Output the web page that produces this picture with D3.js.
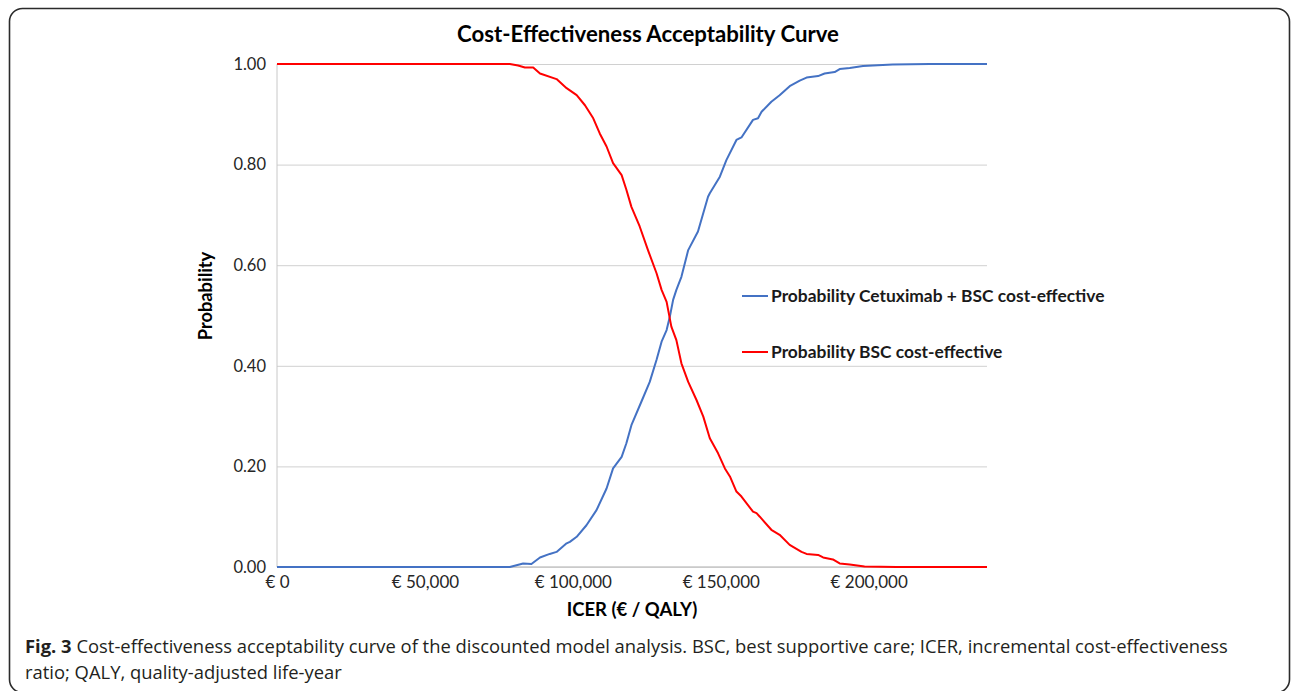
<!DOCTYPE html>
<html>
<head>
<meta charset="utf-8">
<script src="https://cdn.jsdelivr.net/npm/d3@7"></script>
<style>
  html, body { margin: 0; padding: 0; background: #fff; }
  svg { display: block; }
  .chart-font { font-family: Lato, "Noto Sans", sans-serif; }
  .cap-font { font-family: "Open Sans", "Noto Sans", sans-serif; }
</style>
</head>
<body>
<svg id="chart" width="1292" height="691"></svg>
<script>
// Willingness-to-pay thresholds (€ per QALY) and probability of being cost-effective
const cetuximabWtp = [0, 70000, 78700, 83200, 86000, 88900, 92200, 94500, 97900, 99000, 101300, 104600, 108000, 111400, 113600, 116500, 118100, 119800, 123200, 126000, 128300, 130000, 131700, 132800, 133900, 135000, 136700, 139000, 142300, 145700, 146300, 149700, 151900, 155300, 157000, 160900, 162600, 163800, 167100, 169900, 173300, 176700, 179000, 182900, 185100, 188500, 190200, 193600, 198100, 208100, 220600, 240000];
const cetuximabProb = [0, 0, 0, 0.007, 0.006, 0.019, 0.026, 0.030, 0.047, 0.050, 0.060, 0.083, 0.113, 0.156, 0.196, 0.219, 0.246, 0.282, 0.329, 0.368, 0.412, 0.448, 0.471, 0.498, 0.531, 0.551, 0.577, 0.630, 0.667, 0.736, 0.743, 0.776, 0.809, 0.849, 0.854, 0.889, 0.892, 0.905, 0.925, 0.938, 0.956, 0.967, 0.973, 0.976, 0.981, 0.984, 0.990, 0.992, 0.996, 0.999, 1, 1];

const bscWtp = [0, 72000, 78700, 81500, 83800, 86600, 88900, 94500, 97900, 101300, 104100, 106900, 109100, 111400, 113600, 116500, 118100, 119800, 122600, 125400, 128300, 130000, 131700, 133300, 135000, 136700, 139000, 141800, 144100, 146300, 149100, 151400, 153100, 155300, 157000, 160900, 162100, 163200, 167100, 169900, 173300, 177300, 179000, 182900, 184600, 187900, 190200, 193600, 198600, 209400, 240000];
const bscProb = [1, 1, 1, 0.997, 0.993, 0.993, 0.981, 0.970, 0.952, 0.938, 0.918, 0.892, 0.862, 0.836, 0.803, 0.779, 0.750, 0.716, 0.677, 0.630, 0.584, 0.551, 0.527, 0.478, 0.451, 0.405, 0.368, 0.332, 0.299, 0.256, 0.226, 0.196, 0.180, 0.150, 0.140, 0.110, 0.107, 0.100, 0.074, 0.064, 0.044, 0.030, 0.026, 0.024, 0.019, 0.015, 0.007, 0.005, 0.001, 0, 0];

const xTicks = [0, 50000, 100000, 150000, 200000];
const yTicks = [0, 0.2, 0.4, 0.6, 0.8, 1.0];

const seriesNames = ["Probability Cetuximab + BSC cost-effective", "Probability BSC cost-effective"];
const seriesColors = ["#4472C4", "#FF0000"];

const svg = d3.select("#chart");

svg.append("rect").attr("width", 1292).attr("height", 691).attr("fill", "#fff");

// rounded figure frame
svg.append("rect")
  .attr("x", 9.5).attr("y", 8.5)
  .attr("width", 1280).attr("height", 684)
  .attr("rx", 13).attr("ry", 13)
  .attr("fill", "none")
  .attr("stroke", "#2b2b2b")
  .attr("stroke-width", 1.6);

const plot = { left: 277, right: 987, top: 64, bottom: 567 };

const x = d3.scaleLinear().domain([0, 240000]).range([plot.left, plot.right]);
const y = d3.scaleLinear().domain([0, 1]).range([plot.bottom, plot.top]);

// horizontal gridlines + y tick labels
const yAxis = svg.append("g")
  .attr("transform", `translate(${plot.left},0)`)
  .call(d3.axisLeft(y).tickValues(yTicks).tickFormat(d3.format(".2f"))
    .tickSize(-(plot.right - plot.left)).tickPadding(11));
yAxis.select(".domain").remove();
yAxis.selectAll(".tick line").attr("stroke", "#d0d0d0").attr("stroke-width", 1);
yAxis.selectAll(".tick text").attr("font-size", 16.5).attr("fill", "#262626")
  .attr("font-family", "Lato, 'Noto Sans', sans-serif");

// x axis labels
const xAxis = svg.append("g")
  .attr("transform", `translate(0,${plot.bottom})`)
  .call(d3.axisBottom(x).tickValues(xTicks)
    .tickFormat(d => "€ " + d3.format(",")(d)).tickSize(0).tickPadding(9));
xAxis.select(".domain").remove();
xAxis.selectAll(".tick text").attr("font-size", 17).attr("fill", "#262626")
  .attr("font-family", "Lato, 'Noto Sans', sans-serif");

// axis lines
svg.append("line")
  .attr("x1", plot.left).attr("x2", plot.left)
  .attr("y1", plot.top).attr("y2", plot.bottom)
  .attr("stroke", "#c8c8c8").attr("stroke-width", 1);
svg.append("line")
  .attr("x1", plot.left).attr("x2", plot.right)
  .attr("y1", plot.bottom).attr("y2", plot.bottom)
  .attr("stroke", "#c8c8c8").attr("stroke-width", 1.5);

const line = d3.line().x(d => x(d[0])).y(d => y(d[1]));

const series = [
  d3.zip(cetuximabWtp, cetuximabProb),
  d3.zip(bscWtp, bscProb)
];

series.forEach((pts, i) => {
  svg.append("path")
    .datum(pts)
    .attr("d", line)
    .attr("fill", "none")
    .attr("stroke", seriesColors[i])
    .attr("stroke-width", 2)
    .attr("stroke-linejoin", "round");
});

// legend
const legendY = [296, 352];
seriesNames.forEach((name, i) => {
  svg.append("line")
    .attr("x1", 742).attr("x2", 768)
    .attr("y1", legendY[i]).attr("y2", legendY[i])
    .attr("stroke", seriesColors[i]).attr("stroke-width", 2);
  svg.append("text")
    .attr("class", "chart-font")
    .attr("x", 771).attr("y", legendY[i])
    .attr("dy", "0.35em")
    .attr("font-size", 17.4).attr("font-weight", 700).attr("fill", "#1a1a1a")
    .text(name);
});

// title
svg.append("text")
  .attr("class", "chart-font")
  .attr("x", 648).attr("y", 42)
  .attr("text-anchor", "middle")
  .attr("font-size", 22.2).attr("font-weight", 700).attr("fill", "#000")
  .text("Cost-Effectiveness Acceptability Curve");

// axis titles
svg.append("text")
  .attr("class", "chart-font")
  .attr("transform", "translate(212,296) rotate(-90)")
  .attr("text-anchor", "middle")
  .attr("font-size", 18.3).attr("font-weight", 700).attr("fill", "#000")
  .text("Probability");

svg.append("text")
  .attr("class", "chart-font")
  .attr("x", 632).attr("y", 616)
  .attr("text-anchor", "middle")
  .attr("font-size", 18.5).attr("font-weight", 700).attr("fill", "#000")
  .text("ICER (€ / QALY)");

// figure caption
const cap1 = svg.append("text")
  .attr("class", "cap-font")
  .attr("x", 25).attr("y", 653)
  .attr("font-size", 18.4).attr("fill", "#231f20");
cap1.append("tspan").attr("font-weight", 700).text("Fig. 3");
cap1.append("tspan").text(" Cost-effectiveness acceptability curve of the discounted model analysis. BSC, best supportive care; ICER, incremental cost-effectiveness");

svg.append("text")
  .attr("class", "cap-font")
  .attr("x", 25).attr("y", 679)
  .attr("font-size", 18.4).attr("fill", "#231f20")
  .text("ratio; QALY, quality-adjusted life-year");
</script>
</body>
</html>
